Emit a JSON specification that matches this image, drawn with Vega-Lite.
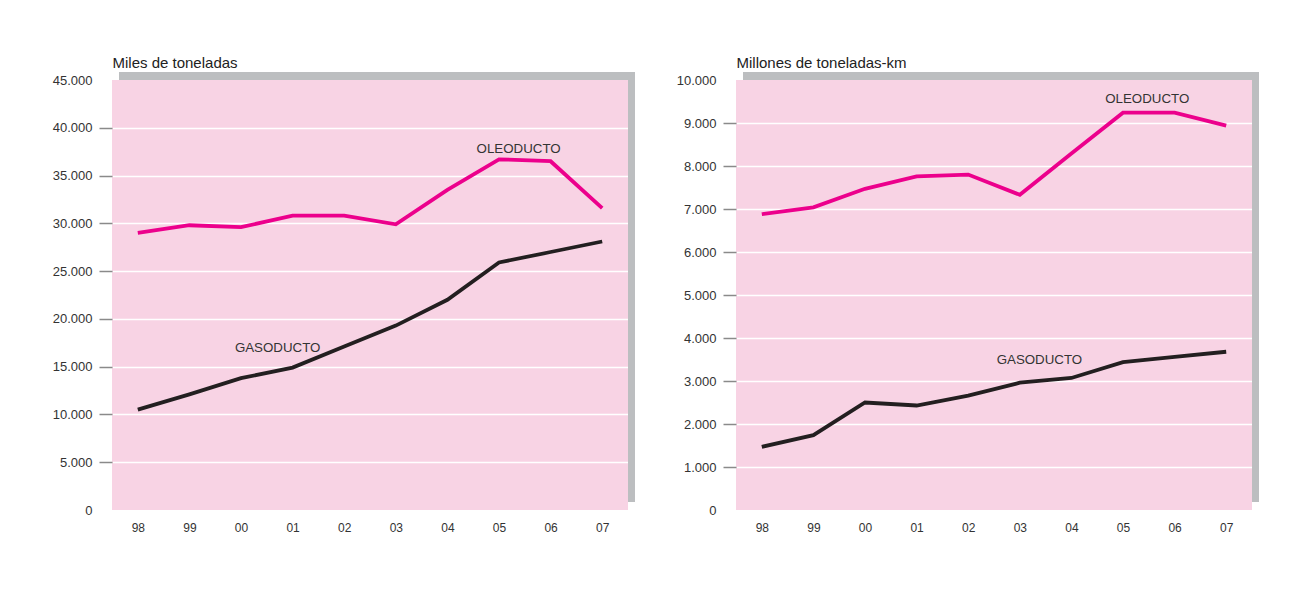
{
  "$schema": "https://vega.github.io/schema/vega-lite/v6.json",
  "background": "#ffffff",
  "padding": {"left": 52, "top": 55, "right": 10, "bottom": 10},
  "spacing": 41,
  "datasets": {
    "toneladas": [
      {"year": 1998, "serie": "OLEODUCTO", "value": 29000},
      {"year": 1999, "serie": "OLEODUCTO", "value": 29800},
      {"year": 2000, "serie": "OLEODUCTO", "value": 29600},
      {"year": 2001, "serie": "OLEODUCTO", "value": 30800},
      {"year": 2002, "serie": "OLEODUCTO", "value": 30800},
      {"year": 2003, "serie": "OLEODUCTO", "value": 29900},
      {"year": 2004, "serie": "OLEODUCTO", "value": 33500},
      {"year": 2005, "serie": "OLEODUCTO", "value": 36700},
      {"year": 2006, "serie": "OLEODUCTO", "value": 36500},
      {"year": 2007, "serie": "OLEODUCTO", "value": 31600},
      {"year": 1998, "serie": "GASODUCTO", "value": 10500},
      {"year": 1999, "serie": "GASODUCTO", "value": 12100},
      {"year": 2000, "serie": "GASODUCTO", "value": 13800},
      {"year": 2001, "serie": "GASODUCTO", "value": 14900},
      {"year": 2002, "serie": "GASODUCTO", "value": 17100},
      {"year": 2003, "serie": "GASODUCTO", "value": 19300},
      {"year": 2004, "serie": "GASODUCTO", "value": 22000},
      {"year": 2005, "serie": "GASODUCTO", "value": 25900},
      {"year": 2006, "serie": "GASODUCTO", "value": 27000},
      {"year": 2007, "serie": "GASODUCTO", "value": 28100}
    ],
    "tkm": [
      {"year": 1998, "serie": "OLEODUCTO", "value": 6880},
      {"year": 1999, "serie": "OLEODUCTO", "value": 7040},
      {"year": 2000, "serie": "OLEODUCTO", "value": 7470},
      {"year": 2001, "serie": "OLEODUCTO", "value": 7760},
      {"year": 2002, "serie": "OLEODUCTO", "value": 7800},
      {"year": 2003, "serie": "OLEODUCTO", "value": 7330},
      {"year": 2004, "serie": "OLEODUCTO", "value": 8290},
      {"year": 2005, "serie": "OLEODUCTO", "value": 9240},
      {"year": 2006, "serie": "OLEODUCTO", "value": 9240},
      {"year": 2007, "serie": "OLEODUCTO", "value": 8940},
      {"year": 1998, "serie": "GASODUCTO", "value": 1470},
      {"year": 1999, "serie": "GASODUCTO", "value": 1740},
      {"year": 2000, "serie": "GASODUCTO", "value": 2500},
      {"year": 2001, "serie": "GASODUCTO", "value": 2430},
      {"year": 2002, "serie": "GASODUCTO", "value": 2660},
      {"year": 2003, "serie": "GASODUCTO", "value": 2960},
      {"year": 2004, "serie": "GASODUCTO", "value": 3070},
      {"year": 2005, "serie": "GASODUCTO", "value": 3440},
      {"year": 2006, "serie": "GASODUCTO", "value": 3560},
      {"year": 2007, "serie": "GASODUCTO", "value": 3680}
    ],
    "etiquetas": [
      {"panel": "toneladas", "label": "OLEODUCTO", "year": 2005.38, "value": 37800},
      {"panel": "toneladas", "label": "GASODUCTO", "year": 2000.71, "value": 17000},
      {"panel": "tkm", "label": "OLEODUCTO", "year": 2005.47, "value": 9550},
      {"panel": "tkm", "label": "GASODUCTO", "year": 2003.38, "value": 3490}
    ]
  },
  "hconcat": [
    {
      "width": 516,
      "height": 430,
      "resolve": {"axis": {"y": "independent"}},
      "layer": [
        {
          "data": {"values": [{}]},
          "mark": {"type": "rect", "color": "#BCBEC0", "xOffset": 7, "x2Offset": 7, "yOffset": -8},
          "encoding": {
            "x": {"datum": 1997.5, "type": "quantitative", "scale": {"domain": [1997.5, 2007.5], "nice": false, "zero": false},
              "axis": {"values": [1998, 1999, 2000, 2001, 2002, 2003, 2004, 2005, 2006, 2007], "labelExpr": "substring('' + datum.value, 2)", "title": null, "ticks": false, "domain": false, "grid": false, "labelPadding": 12}},
            "x2": {"datum": 2007.5},
            "y": {"datum": 45000, "type": "quantitative", "scale": {"domain": [0, 45000], "nice": false},
              "axis": {
                "orient": "left",
                "values": [0, 5000, 10000, 15000, 20000, 25000, 30000, 35000, 40000, 45000],
                "labelExpr": "replace(format(datum.value, ','), ',', '.')",
                "title": "Miles de toneladas",
                "titleAngle": 0, "titleX": 0, "titleY": -13, "titleAlign": "left", "titleBaseline": "alphabetic",
                "ticks": true, "tickColor": "#8a8a8a", "tickWidth": 1.5, "tickSize": 13,
                "tickOpacity": {"condition": {"test": "datum.value == 0 || datum.value == 45000", "value": 0}, "value": 1},
                "grid": false
              }},
            "y2": {"datum": 45000}
          }
        },
        {
          "data": {"values": [{}]},
          "mark": {"type": "rect", "color": "#BCBEC0", "yOffset": -8, "y2Offset": -8, "x2Offset": 7},
          "encoding": {
            "x": {"datum": 2007.5, "type": "quantitative"},
            "x2": {"datum": 2007.5},
            "y": {"datum": 45000, "type": "quantitative",
              "axis": {"orient": "right", "values": [5000, 10000, 15000, 20000, 25000, 30000, 35000, 40000], "grid": true, "gridColor": "#ffffff", "labels": false, "ticks": false, "domain": false, "title": null}},
            "y2": {"datum": 0}
          }
        },
        {
          "data": {"name": "toneladas"},
          "mark": {"type": "line", "strokeWidth": 3.8, "strokeJoin": "miter", "strokeCap": "butt"},
          "encoding": {
            "x": {"field": "year", "type": "quantitative"},
            "y": {"field": "value", "type": "quantitative", "axis": null},
            "color": {"field": "serie", "type": "nominal", "scale": {"domain": ["OLEODUCTO", "GASODUCTO"], "range": ["#EC008C", "#231F20"]}, "legend": null}
          }
        },
        {
          "data": {"name": "etiquetas"},
          "transform": [{"filter": "datum.panel == 'toneladas'"}],
          "mark": {"type": "text", "fontSize": 13.3, "color": "#333333", "font": "Liberation Sans", "baseline": "middle", "align": "center"},
          "encoding": {
            "x": {"field": "year", "type": "quantitative"},
            "y": {"field": "value", "type": "quantitative", "axis": null},
            "text": {"field": "label"}
          }
        }
      ]
    },
    {
      "width": 516,
      "height": 430,
      "resolve": {"axis": {"y": "independent"}},
      "layer": [
        {
          "data": {"values": [{}]},
          "mark": {"type": "rect", "color": "#BCBEC0", "xOffset": 7, "x2Offset": 7, "yOffset": -8},
          "encoding": {
            "x": {"datum": 1997.5, "type": "quantitative", "scale": {"domain": [1997.5, 2007.5], "nice": false, "zero": false},
              "axis": {"values": [1998, 1999, 2000, 2001, 2002, 2003, 2004, 2005, 2006, 2007], "labelExpr": "substring('' + datum.value, 2)", "title": null, "ticks": false, "domain": false, "grid": false, "labelPadding": 12}},
            "x2": {"datum": 2007.5},
            "y": {"datum": 10000, "type": "quantitative", "scale": {"domain": [0, 10000], "nice": false},
              "axis": {
                "orient": "left",
                "values": [0, 1000, 2000, 3000, 4000, 5000, 6000, 7000, 8000, 9000, 10000],
                "labelExpr": "replace(format(datum.value, ','), ',', '.')",
                "title": "Millones de toneladas-km",
                "titleAngle": 0, "titleX": 0, "titleY": -13, "titleAlign": "left", "titleBaseline": "alphabetic",
                "ticks": true, "tickColor": "#8a8a8a", "tickWidth": 1.5, "tickSize": 13,
                "tickOpacity": {"condition": {"test": "datum.value == 0 || datum.value == 10000", "value": 0}, "value": 1},
                "grid": false
              }},
            "y2": {"datum": 10000}
          }
        },
        {
          "data": {"values": [{}]},
          "mark": {"type": "rect", "color": "#BCBEC0", "yOffset": -8, "y2Offset": -8, "x2Offset": 7},
          "encoding": {
            "x": {"datum": 2007.5, "type": "quantitative"},
            "x2": {"datum": 2007.5},
            "y": {"datum": 10000, "type": "quantitative",
              "axis": {"orient": "right", "values": [1000, 2000, 3000, 4000, 5000, 6000, 7000, 8000, 9000], "grid": true, "gridColor": "#ffffff", "labels": false, "ticks": false, "domain": false, "title": null}},
            "y2": {"datum": 0}
          }
        },
        {
          "data": {"name": "tkm"},
          "mark": {"type": "line", "strokeWidth": 3.8, "strokeJoin": "miter", "strokeCap": "butt"},
          "encoding": {
            "x": {"field": "year", "type": "quantitative"},
            "y": {"field": "value", "type": "quantitative", "axis": null},
            "color": {"field": "serie", "type": "nominal", "scale": {"domain": ["OLEODUCTO", "GASODUCTO"], "range": ["#EC008C", "#231F20"]}, "legend": null}
          }
        },
        {
          "data": {"name": "etiquetas"},
          "transform": [{"filter": "datum.panel == 'tkm'"}],
          "mark": {"type": "text", "fontSize": 13.3, "color": "#333333", "font": "Liberation Sans", "baseline": "middle", "align": "center"},
          "encoding": {
            "x": {"field": "year", "type": "quantitative"},
            "y": {"field": "value", "type": "quantitative", "axis": null},
            "text": {"field": "label"}
          }
        }
      ]
    }
  ],
  "config": {
    "font": "Liberation Sans",
    "view": {"stroke": null, "fill": "#F8D3E4"},
    "axis": {
      "labelFont": "Liberation Sans",
      "labelFontSize": 13,
      "labelColor": "#333333",
      "titleFont": "Liberation Sans",
      "titleFontSize": 15,
      "titleFontWeight": "normal",
      "titleColor": "#222222",
      "gridWidth": 1.5
    },
    "axisY": {"domain": false, "labelPadding": 7},
    "axisX": {"grid": false, "labelFontSize": 12}
  }
}
